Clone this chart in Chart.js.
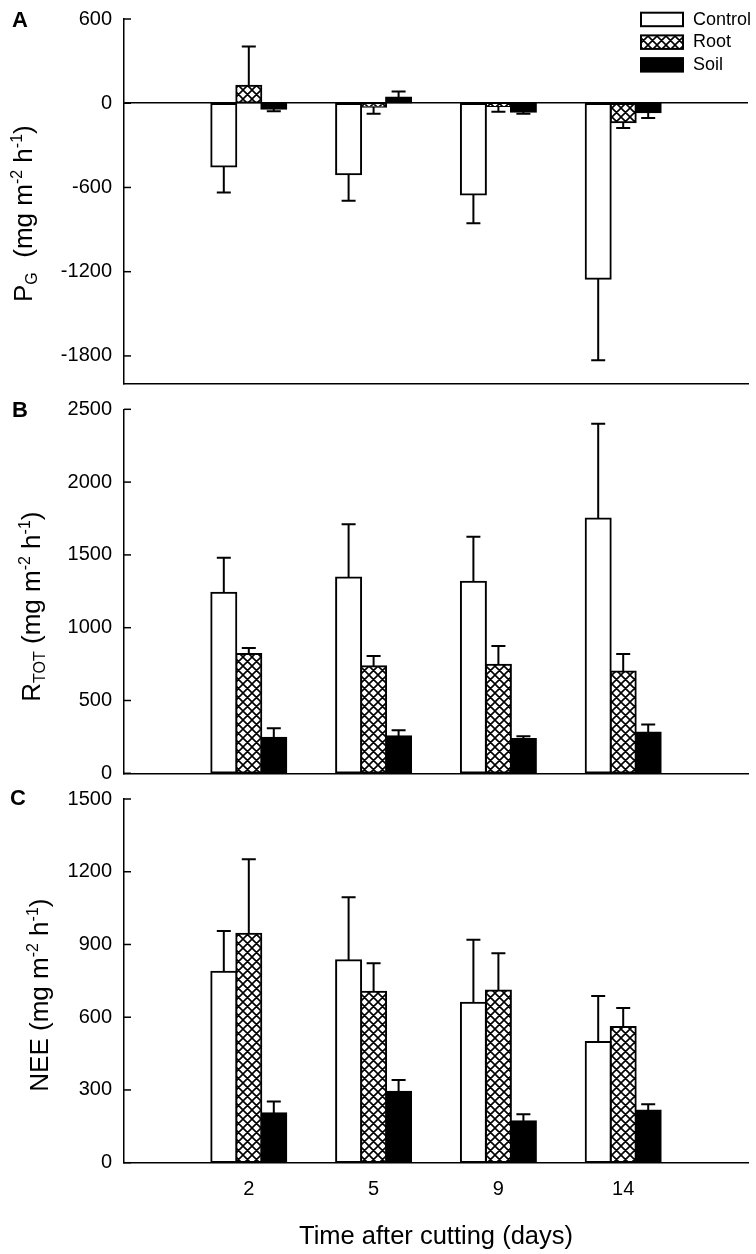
<!DOCTYPE html>
<html>
<head>
<meta charset="utf-8">
<title>Time after cutting</title>
<script src="https://cdn.jsdelivr.net/npm/chart.js@4.4.0/dist/chart.umd.min.js"></script>
<style>
    html, body { margin: 0; padding: 0; background: #fff; }
    #wrap { position: relative; width: 756px; height: 1254px; }
    canvas { position: absolute; left: 0; }
</style>
</head>
<body>
<div id="wrap">
    <canvas id="chartA" width="756" height="396" style="top:0"></canvas>
    <canvas id="chartB" width="756" height="390" style="top:396px"></canvas>
    <canvas id="chartC" width="756" height="468" style="top:786px"></canvas>
</div>
<script>
// Categories
const days = ['2', '5', '9', '14'];

// Panel A - P_G
const pgControl = [-450, -505, -650, -1250];
const pgControlErr = [185, 190, 205, 580];
const pgRoot = [125, -25, -20, -135];
const pgRootErr = [280, 50, 40, 42];
const pgSoil = [-40, 40, -60, -65];
const pgSoilErr = [18, 44, 15, 40];
const pgTicks = [-1800, -1200, -600, 0, 600];

// Panel B - R_TOT
const rControl = [1240, 1345, 1315, 1750];
const rControlErr = [240, 365, 310, 650];
const rRoot = [820, 735, 745, 700];
const rRootErr = [40, 70, 130, 120];
const rSoil = [245, 255, 235, 280];
const rSoilErr = [65, 40, 20, 55];
const rTicks = [0, 500, 1000, 1500, 2000, 2500];

// Panel C - NEE
const neeControl = [788, 835, 660, 498];
const neeControlErr = [168, 260, 260, 190];
const neeRoot = [944, 705, 710, 560];
const neeRootErr = [308, 118, 154, 78];
const neeSoil = [204, 293, 171, 215];
const neeSoilErr = [48, 48, 29, 26];
const neeTicks = [0, 300, 600, 900, 1200, 1500];

const FONT = '"Liberation Sans", Arial, sans-serif';
Chart.defaults.font.family = FONT;
Chart.defaults.color = '#000';

// empty slot on each side of the four days
const pad = arr => [null, ...arr, null];

// Cross-hatch fill for the Root bars
function makeHatch() {
    const s = 9;
    const c = document.createElement('canvas');
    c.width = s; c.height = s;
    const g = c.getContext('2d');
    g.fillStyle = '#fff';
    g.fillRect(0, 0, s, s);
    g.strokeStyle = '#000';
    g.lineWidth = 1.6;
    g.beginPath();
    for (const k of [-s, 0, s]) {
        g.moveTo(k, 0); g.lineTo(k + s, s);
        g.moveTo(k + s, 0); g.lineTo(k, s);
    }
    g.stroke();
    return g.createPattern(c, 'repeat');
}
const hatch = makeHatch();

// One-sided error bars, drawn away from zero
const errorBars = {
    id: 'errorBars',
    afterDatasetsDraw(chart) {
        const ctx = chart.ctx;
        const ys = chart.scales.y;
        ctx.save();
        ctx.strokeStyle = '#000';
        ctx.lineWidth = 2;
        chart.data.datasets.forEach((ds, i) => {
            chart.getDatasetMeta(i).data.forEach((bar, j) => {
                const v = ds.data[j];
                const e = ds.errors[j];
                if (v == null || e == null) return;
                const tip = ys.getPixelForValue(v + (v < 0 ? -e : e));
                ctx.beginPath();
                ctx.moveTo(bar.x, bar.y);
                ctx.lineTo(bar.x, tip);
                ctx.moveTo(bar.x - 7, tip);
                ctx.lineTo(bar.x + 7, tip);
                ctx.stroke();
            });
        });
        ctx.restore();
    }
};

// Inward ticks, panel letter, rotated y title with sub/superscripts, legend
const panelDecor = {
    id: 'panelDecor',
    afterDraw(chart, args, opts) {
        const ctx = chart.ctx;
        const ys = chart.scales.y;
        ctx.save();
        ctx.strokeStyle = '#000';
        ctx.lineWidth = 1.5;
        ys.ticks.forEach(t => {
            const p = ys.getPixelForValue(t.value);
            ctx.beginPath();
            ctx.moveTo(ys.right, p);
            ctx.lineTo(ys.right + 7, p);
            ctx.stroke();
        });

        ctx.fillStyle = '#000';
        ctx.textAlign = 'left';
        ctx.textBaseline = 'alphabetic';
        ctx.font = 'bold 22px ' + FONT;
        ctx.fillText(opts.letter, opts.letterX, opts.letterY);

        if (opts.legend) {
            ctx.font = '18px ' + FONT;
            ctx.textBaseline = 'middle';
            chart.data.datasets.forEach((ds, i) => {
                const by = opts.legend.y + i * 22.7;
                ctx.fillStyle = ds.backgroundColor;
                ctx.fillRect(opts.legend.x, by, 42, 13.5);
                ctx.lineWidth = 2;
                ctx.strokeRect(opts.legend.x, by, 42, 13.5);
                ctx.fillStyle = '#000';
                ctx.fillText(ds.label, opts.legend.x + 52, by + 7);
            });
        }

        ctx.translate(opts.titleX, opts.titleY);
        ctx.rotate(-Math.PI / 2);
        ctx.textBaseline = 'alphabetic';
        let x = 0;
        opts.title.forEach(part => {
            ctx.font = (part.s ? 16 : 26) + 'px ' + FONT;
            const dy = part.s === 'sub' ? 5 : part.s === 'sup' ? -10 : 0;
            ctx.fillText(part.t, x, dy);
            x += ctx.measureText(part.t).width;
        });
        ctx.restore();
    }
};

function makeDatasets(control, controlErr, root, rootErr, soil, soilErr) {
    const base = { borderColor: '#000', borderWidth: 2, borderSkipped: false, barThickness: 25, inflateAmount: 1 };
    return [
        { ...base, label: 'Control', data: pad(control), errors: pad(controlErr), backgroundColor: '#fff' },
        { ...base, label: 'Root', data: pad(root), errors: pad(rootErr), backgroundColor: hatch },
        { ...base, label: 'Soil', data: pad(soil), errors: pad(soilErr), backgroundColor: '#000' }
    ];
}

function makeChart(id, cfg) {
    const showX = !!cfg.xTitle;
    new Chart(document.getElementById(id), {
        type: 'bar',
        data: { labels: ['', ...days, ''], datasets: cfg.datasets },
        options: {
            responsive: false,
            animation: false,
            events: [],
            layout: { padding: cfg.padding },
            plugins: {
                legend: { display: false },
                tooltip: { enabled: false },
                panelDecor: cfg.decor
            },
            scales: {
                x: {
                    type: 'category',
                    offset: false,
                    // tick marks are not drawn; their length only spaces the labels
                    grid: { display: false, drawTicks: true, tickLength: 15 },
                    border: { color: '#000', width: 1.5 },
                    ticks: { display: showX, padding: 0, autoSkip: false, maxRotation: 0, font: { size: 20 } },
                    title: { display: showX, text: cfg.xTitle || '', font: { size: 25.5 }, padding: { top: 0, bottom: 2 } },
                    afterFit: s => { s.height = cfg.xHeight; }
                },
                y: {
                    min: cfg.min,
                    max: cfg.max,
                    afterBuildTicks: s => { s.ticks = cfg.ticks.map(v => ({ value: v })); },
                    afterFit: s => { s.width = 124; },
                    grid: {
                        drawTicks: true,
                        tickLength: 12,
                        tickColor: 'rgba(0,0,0,0)',
                        lineWidth: 1.5,
                        color: c => (cfg.zeroLine && c.tick && c.tick.value === 0) ? '#000' : 'rgba(0,0,0,0)'
                    },
                    border: { color: '#000', width: 1.5 },
                    ticks: { padding: 0, font: { size: 20 }, callback: v => String(v) }
                }
            }
        },
        plugins: [errorBars, panelDecor]
    });
}

makeChart('chartA', {
    datasets: makeDatasets(pgControl, pgControlErr, pgRoot, pgRootErr, pgSoil, pgSoilErr),
    min: -2000, max: 600, ticks: pgTicks, zeroLine: true,
    padding: { top: 19, right: 8, bottom: 12, left: 0 }, xHeight: 0,
    decor: {
        letter: 'A', letterX: 12, letterY: 27,
        titleX: 32, titleY: 302,
        title: [{ t: 'P' }, { t: 'G', s: 'sub' }, { t: '  (mg m' }, { t: '-2', s: 'sup' }, { t: ' h' }, { t: '-1', s: 'sup' }, { t: ')' }],
        legend: { x: 641, y: 12.7 }
    }
});

makeChart('chartB', {
    datasets: makeDatasets(rControl, rControlErr, rRoot, rRootErr, rSoil, rSoilErr),
    min: 0, max: 2500, ticks: rTicks, zeroLine: false,
    padding: { top: 13.3, right: 8, bottom: 12.7, left: 0 }, xHeight: 0,
    decor: {
        letter: 'B', letterX: 12, letterY: 20.7,
        titleX: 40, titleY: 305.7,
        title: [{ t: 'R' }, { t: 'TOT', s: 'sub' }, { t: ' (mg m' }, { t: '-2', s: 'sup' }, { t: ' h' }, { t: '-1', s: 'sup' }, { t: ')' }]
    }
});

makeChart('chartC', {
    datasets: makeDatasets(neeControl, neeControlErr, neeRoot, neeRootErr, neeSoil, neeSoilErr),
    min: 0, max: 1500, ticks: neeTicks, zeroLine: false,
    padding: { top: 13, right: 8, bottom: 0, left: 0 }, xHeight: 91.3,
    xTitle: 'Time after cutting (days)',
    decor: {
        letter: 'C', letterX: 10, letterY: 19,
        titleX: 48, titleY: 305.7,
        title: [{ t: 'NEE (mg m' }, { t: '-2', s: 'sup' }, { t: ' h' }, { t: '-1', s: 'sup' }, { t: ')' }]
    }
});
</script>
</body>
</html>
